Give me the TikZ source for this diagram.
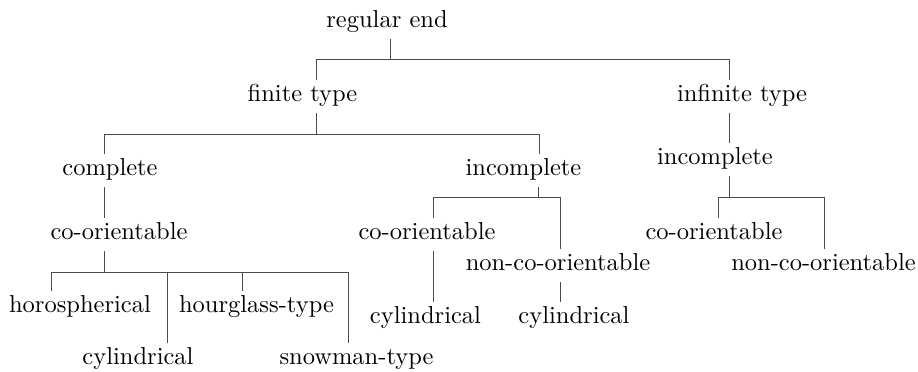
\documentclass[tikz,border=0pt]{standalone}
\begin{document}
\begin{tikzpicture}[x=0.4082pt,y=-0.4082pt,
  lbl/.style={inner sep=0pt,text height=8.6pt,text depth=4.3pt,anchor=base},
  conn/.style={line width=0.4pt,draw=black!70}]
\useasboundingbox (0,0) rectangle (918,372);
% nodes
\node[lbl] (root) at (387,28) {regular end};
\node[lbl] (fin) at (302.5,102) {finite type};
\node[lbl] (inf) at (742,102) {infinite type};
\node[lbl] (comp) at (110,176) {complete};
\node[lbl] (inc1) at (523.5,176) {incomplete};
\node[lbl] (inc2) at (715,165) {incomplete};
\node[lbl] (co1) at (119,240) {co-orientable};
\node[lbl] (co2) at (427,240) {co-orientable};
\node[lbl] (nco2) at (558,271) {non-co-orientable};
\node[lbl] (co3) at (714,240) {co-orientable};
\node[lbl] (nco3) at (823.5,271) {non-co-orientable};
\node[lbl] (horo) at (80,313) {horospherical};
\node[lbl] (cyl1) at (138,365) {cylindrical};
\node[lbl] (hour) at (256.5,313) {hourglass-type};
\node[lbl] (snow) at (356.5,365) {snowman-type};
\node[lbl] (cyl2) at (425.5,324) {cylindrical};
\node[lbl] (cyl3) at (574,324) {cylindrical};
% connectors
\draw[conn] (390,0 |- root.south) -- (390,59) -| (316,0 |- fin.north);
\draw[conn] (390,59) -| (729,0 |- inf.north);
\draw[conn] (316,0 |- fin.south) -- (316,134) -| (104,0 |- comp.north);
\draw[conn] (316,134) -| (539,0 |- inc1.north);
\draw[conn] (104,0 |- comp.south) -- (104,0 |- co1.north);
\draw[conn] (104,0 |- co1.south) -- (104,272) -| (51,0 |- horo.north);
\draw[conn] (104,272) -| (167,0 |- cyl1.north);
\draw[conn] (104,272) -| (242,0 |- hour.north);
\draw[conn] (104,272) -| (348,0 |- snow.north);
\draw[conn] (538,0 |- inc1.south) -- (538,197) -| (433,0 |- co2.north);
\draw[conn] (538,197) -| (560,0 |- nco2.north);
\draw[conn] (433,0 |- co2.south) -- (433,0 |- cyl2.north);
\draw[conn] (560,0 |- nco2.south) -- (560,0 |- cyl3.north);
\draw[conn] (729,0 |- inf.south) -- (729,0 |- inc2.north);
\draw[conn] (729,0 |- inc2.south) -- (729,197) -| (718,0 |- co3.north);
\draw[conn] (729,197) -| (824,0 |- nco3.north);
\end{tikzpicture}
\end{document}
